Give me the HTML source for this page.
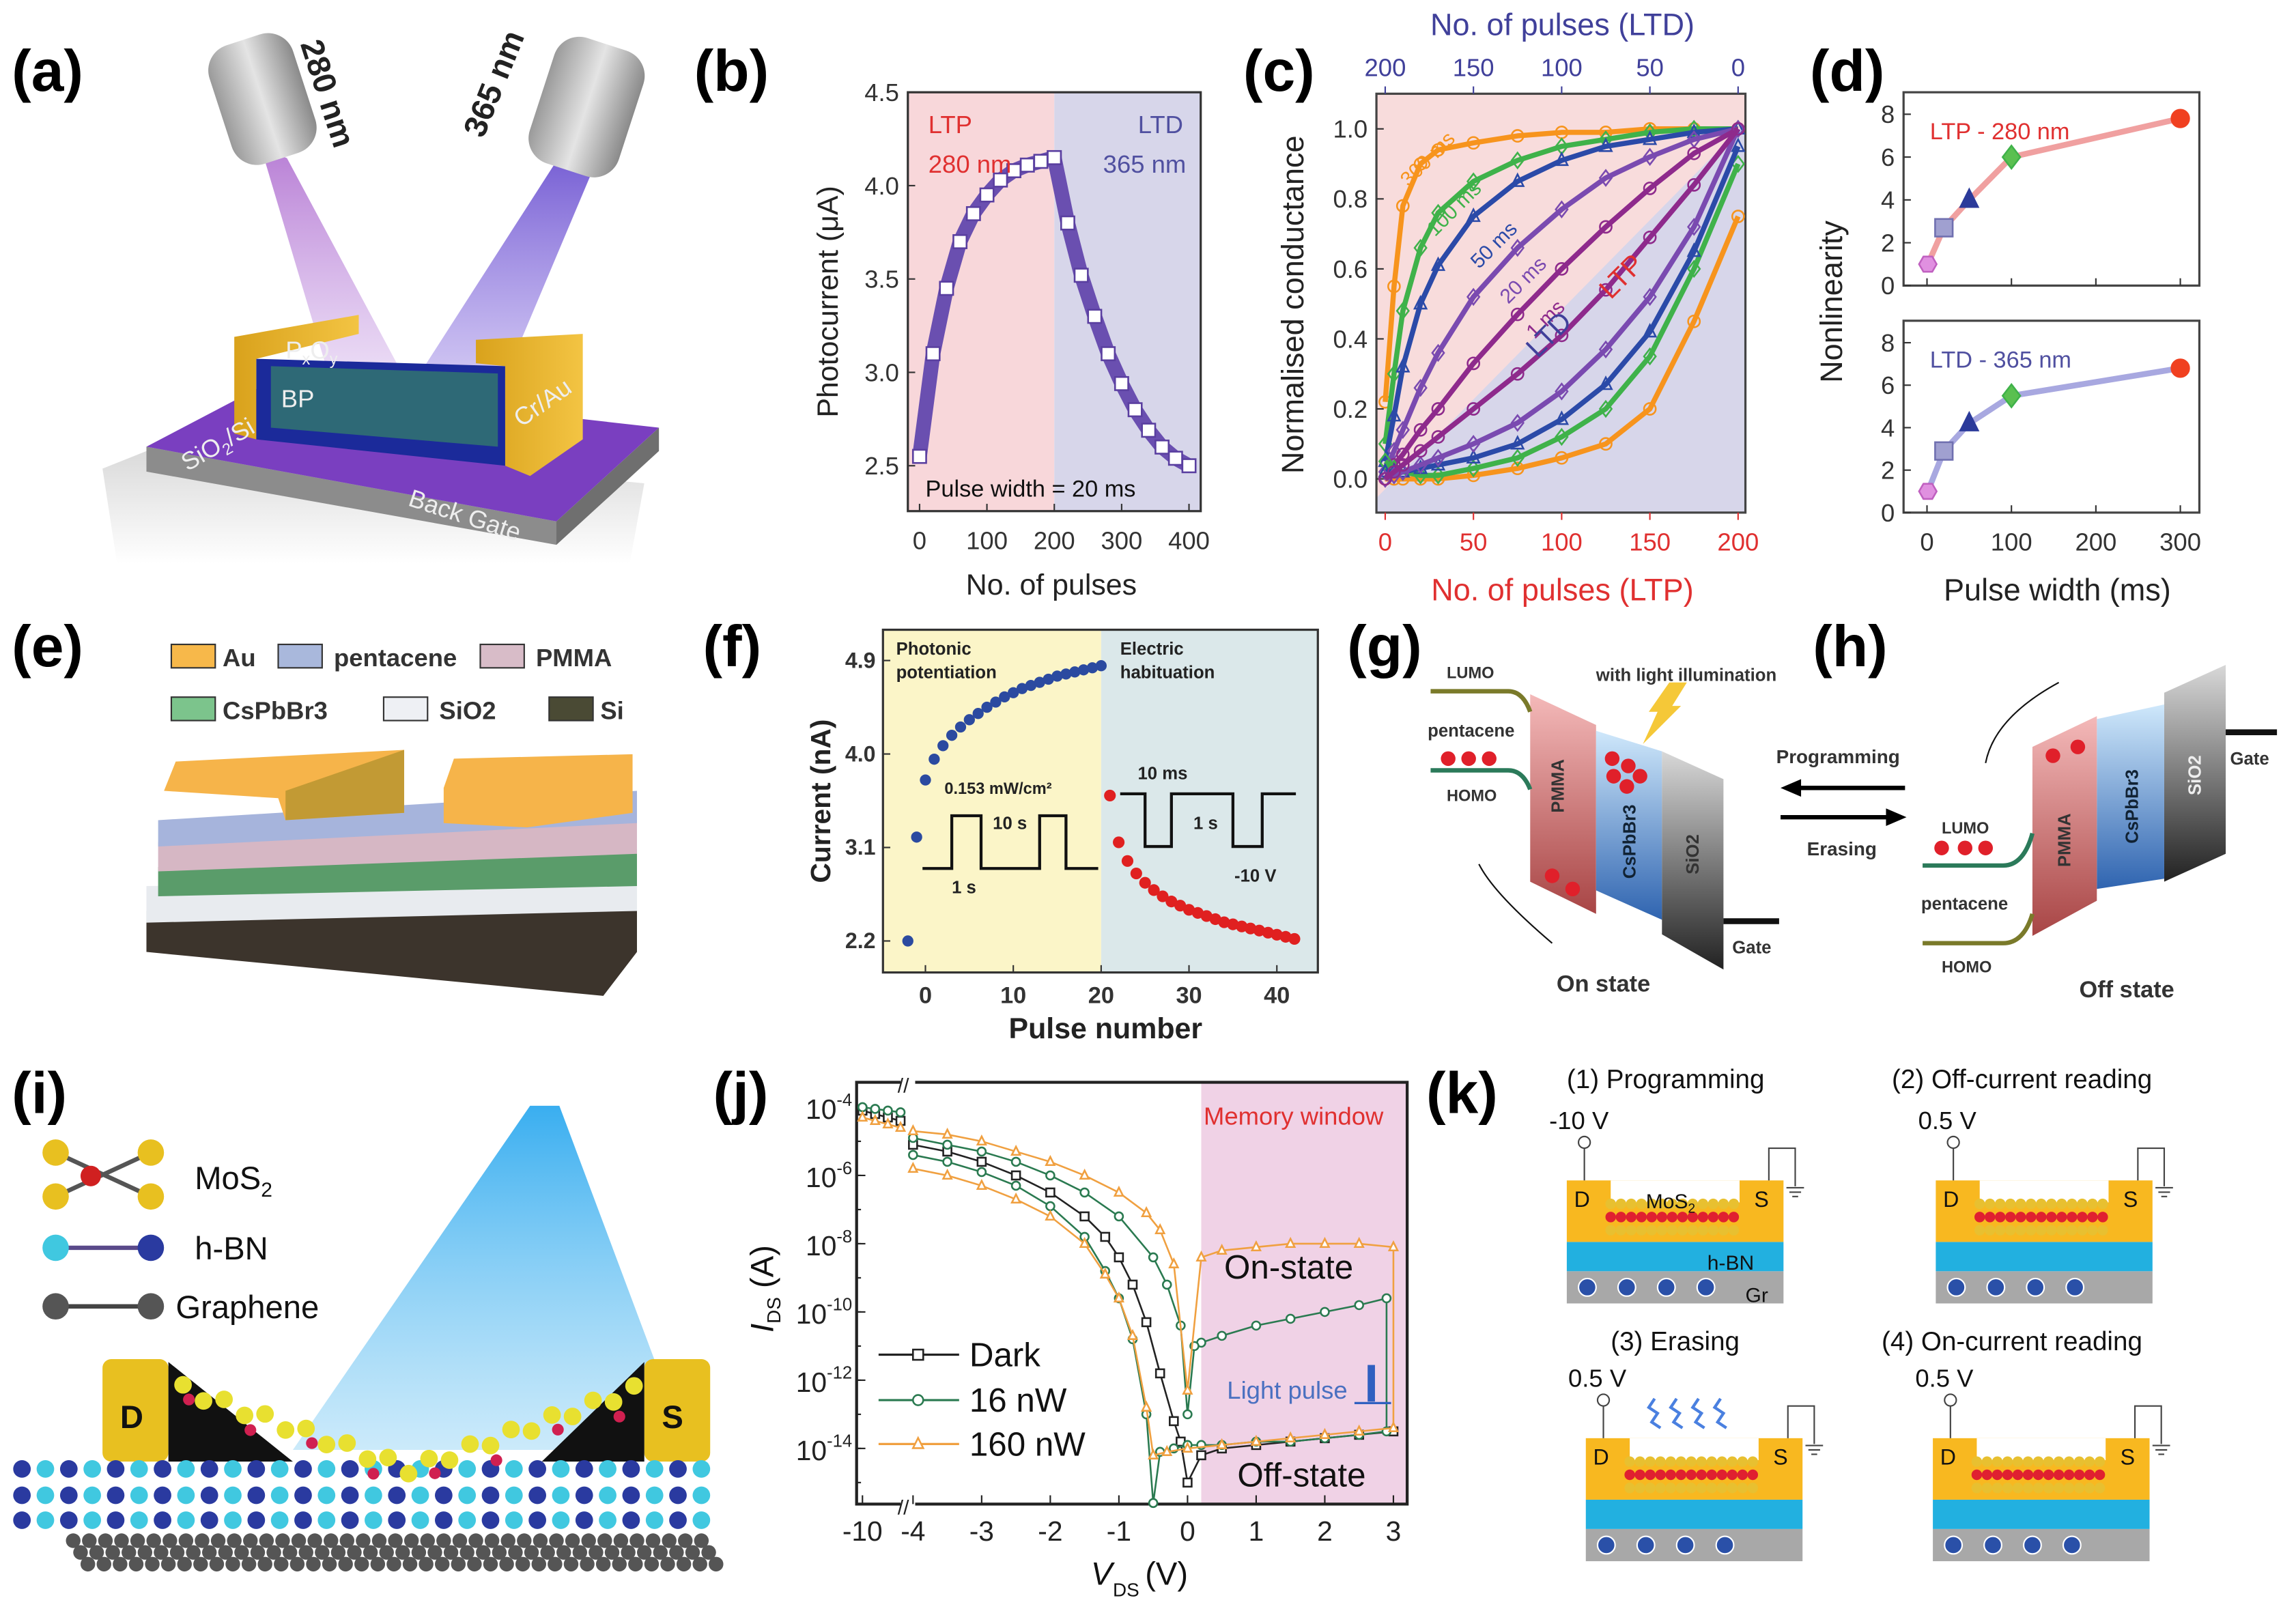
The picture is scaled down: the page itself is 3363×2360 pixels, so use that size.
<!DOCTYPE html>
<html><head><meta charset="utf-8"><title>Optoelectronic synaptic devices figure</title>
<style>
html,body{margin:0;padding:0;background:#fff;}
svg{display:block;}
text{font-family:"Liberation Sans",sans-serif;}
</style></head>
<body>
<svg id="fig" xmlns="http://www.w3.org/2000/svg" width="3363" height="2360" viewBox="0 0 1568 1100" preserveAspectRatio="none">
<defs>
  <linearGradient id="beamL" x1="0" y1="0" x2="0" y2="1"><stop offset="0" stop-color="#b070d0" stop-opacity="0.9"/><stop offset="1" stop-color="#c090e0" stop-opacity="0.3"/></linearGradient>
  <linearGradient id="beamR" x1="0" y1="0" x2="0" y2="1"><stop offset="0" stop-color="#6a50d0" stop-opacity="0.9"/><stop offset="1" stop-color="#8a70e0" stop-opacity="0.4"/></linearGradient>
  <linearGradient id="lamp" x1="0" y1="0" x2="1" y2="0"><stop offset="0" stop-color="#9a9a9a"/><stop offset="0.5" stop-color="#e4e4e4"/><stop offset="1" stop-color="#8a8a8a"/></linearGradient>
  <linearGradient id="gold" x1="0" y1="0" x2="1" y2="0"><stop offset="0" stop-color="#d9a21c"/><stop offset="1" stop-color="#f3c443"/></linearGradient>
  <linearGradient id="pmma" x1="0" y1="0" x2="0" y2="1"><stop offset="0" stop-color="#f4b9b9"/><stop offset="1" stop-color="#a84545"/></linearGradient>
  <linearGradient id="csp" x1="0" y1="0" x2="0" y2="1"><stop offset="0" stop-color="#cfe8fb"/><stop offset="1" stop-color="#2f64b0"/></linearGradient>
  <linearGradient id="sio" x1="0" y1="0" x2="0" y2="1"><stop offset="0" stop-color="#d8d8d8"/><stop offset="1" stop-color="#222"/></linearGradient>
  <linearGradient id="cone" x1="0" y1="0" x2="0" y2="1"><stop offset="0" stop-color="#39aef0"/><stop offset="1" stop-color="#a9dcf7" stop-opacity="0.6"/></linearGradient>
  <linearGradient id="shadow" x1="0" y1="0" x2="0" y2="1"><stop offset="0" stop-color="#bbb"/><stop offset="1" stop-color="#fff"/></linearGradient>
</defs>

<g font-weight="bold" font-size="40" fill="#000">
  <text x="8" y="62">(a)</text>
  <text x="474" y="62">(b)</text>
  <text x="849" y="62">(c)</text>
  <text x="1236" y="62">(d)</text>
  <text x="8" y="455">(e)</text>
  <text x="480" y="455">(f)</text>
  <text x="920" y="455">(g)</text>
  <text x="1238" y="455">(h)</text>
  <text x="8" y="760">(i)</text>
  <text x="487" y="760">(j)</text>
  <text x="974" y="760">(k)</text>
</g>

<g>
  <polygon points="70,320 120,300 440,330 430,385 80,385" fill="url(#shadow)" opacity="0.6"/>
  <polygon points="178,100 196,108 272,250 225,258" fill="url(#beamL)"/>
  <polygon points="380,110 404,118 345,258 290,250" fill="url(#beamR)"/>
  <g transform="rotate(-18 180 70)"><rect x="150" y="25" width="60" height="85" rx="18" fill="url(#lamp)"/></g>
  <g transform="rotate(18 400 75)"><rect x="368" y="28" width="64" height="90" rx="18" fill="url(#lamp)"/></g>
  <text x="0" y="0" transform="translate(205,30) rotate(72)" font-size="22" font-weight="bold" fill="#222">280 nm</text>
  <text x="0" y="0" transform="translate(330,95) rotate(-68)" font-size="22" font-weight="bold" fill="#222">365 nm</text>
  <polygon points="100,305 100,322 380,372 380,356" fill="#8c8c8c"/>
  <polygon points="380,356 380,372 450,308 450,292" fill="#6f6f6f"/>
  <polygon points="100,305 182,262 450,292 380,356" fill="#7a3fc0"/>
  <polygon points="175,245 345,250 345,318 175,300" fill="#1b2a9a"/>
  <polygon points="185,250 340,255 340,305 185,292" fill="#3e9c5a" opacity="0.55"/>
  <polygon points="160,230 245,215 245,228 175,245 175,300 160,296" fill="url(#gold)"/>
  <polygon points="325,232 398,228 398,300 362,325 345,318 345,250 325,248" fill="url(#gold)"/>
  <text x="195" y="245" font-size="17" fill="#eee">P<tspan font-size="11" dy="4">x</tspan><tspan dy="-4">O</tspan><tspan font-size="11" dy="4">y</tspan></text>
  <text x="192" y="278" font-size="17" fill="#eee">BP</text>
  <text x="0" y="0" transform="translate(356,292) rotate(-35)" font-size="17" fill="#eee">Cr/Au</text>
  <text x="0" y="0" transform="translate(128,322) rotate(-30)" font-size="17" fill="#eee">SiO<tspan font-size="11" dy="4">2</tspan><tspan dy="-4">/Si</tspan></text>
  <text x="0" y="0" transform="translate(278,345) rotate(18)" font-size="17" fill="#eee">Back Gate</text>
</g>

<g id="chartB"></g>
<g id="chartC"></g>
<g id="chartD"></g>

<g font-size="17" font-weight="bold" fill="#333">
  <rect x="117" y="440" width="30" height="16" fill="#f7b84a" stroke="#333"/><text x="152" y="455">Au</text>
  <rect x="190" y="440" width="30" height="16" fill="#a9b8dc" stroke="#333"/><text x="228" y="455">pentacene</text>
  <rect x="328" y="440" width="30" height="16" fill="#d8bcc8" stroke="#333"/><text x="366" y="455">PMMA</text>
  <rect x="117" y="476" width="30" height="16" fill="#7cc48c" stroke="#333"/><text x="152" y="491">CsPbBr3</text>
  <rect x="262" y="476" width="30" height="16" fill="#eef0f4" stroke="#333"/><text x="300" y="491">SiO2</text>
  <rect x="375" y="476" width="30" height="16" fill="#4a4a34" stroke="#333"/><text x="410" y="491">Si</text>
  <polygon points="100,622 435,622 435,650 412,680 100,650" fill="#3c342c"/>
  <polygon points="100,605 435,600 435,622 100,630" fill="#e8ebef"/>
  <polygon points="108,592 435,580 435,605 108,612" fill="#5a9c6a"/>
  <polygon points="108,575 435,560 435,583 108,595" fill="#d6b7c4"/>
  <polygon points="108,560 435,540 435,562 108,578" fill="#a6b4dc"/>
  <polygon points="112,540 120,520 276,512 276,555 195,560 190,545" fill="#f6b44a"/>
  <polygon points="195,540 276,512 276,555 195,560" fill="#c29a34"/>
  <polygon points="303,538 310,518 432,515 432,555 360,565 303,562" fill="#f6b44a"/>
</g>

<g id="chartF"></g>

<g font-weight="bold" fill="#333">
  <polygon points="1045,474 1090,495 1090,624 1045,602" fill="url(#pmma)"/>
  <polygon points="1090,499 1135,513 1135,628 1090,608" fill="url(#csp)"/>
  <polygon points="1135,513 1177,532 1177,662 1135,638" fill="url(#sio)"/>
  <rect x="1177" y="627" width="38" height="4" fill="#111"/>
  <path d="M977,472 H1030 Q1040,472 1045,486" stroke="#7a7a2a" stroke-width="3" fill="none"/>
  <path d="M977,526 H1030 Q1040,526 1045,539" stroke="#2b7a5a" stroke-width="3" fill="none"/>
  <text x="988" y="463" font-size="11">LUMO</text>
  <text x="975" y="503" font-size="12">pentacene</text>
  <text x="988" y="547" font-size="11">HOMO</text>
  <text x="1090" y="465" font-size="12">with light illumination</text>
  <polygon points="1140,466 1152,466 1142,482 1148,482 1122,508 1132,486 1126,486" fill="#f5c838"/>
  <g fill="#e0202a"><circle cx="989" cy="518" r="5"/><circle cx="1003" cy="518" r="5"/><circle cx="1017" cy="518" r="5"/></g>
  <g fill="#e0202a"><circle cx="1101" cy="518" r="5"/><circle cx="1112" cy="523" r="5"/><circle cx="1102" cy="530" r="5"/><circle cx="1120" cy="530" r="5"/><circle cx="1111" cy="537" r="5"/></g>
  <g fill="#e0202a"><circle cx="1060" cy="598" r="5"/><circle cx="1074" cy="607" r="5"/></g>
  <path d="M1060,644 Q1020,610 1010,590" stroke="#111" fill="none"/>
  <text x="0" y="0" transform="translate(1068,555) rotate(-90)" font-size="12">PMMA</text>
  <text x="0" y="0" transform="translate(1117,600) rotate(-90)" font-size="12" fill="#123">CsPbBr3</text>
  <text x="0" y="0" transform="translate(1160,597) rotate(-90)" font-size="12">SiO2</text>
  <text x="1183" y="651" font-size="12">Gate</text>
  <text x="1063" y="677" font-size="16">On state</text>
  <text x="1213" y="521" font-size="13">Programming</text>
  <path d="M1301,538 H1225" stroke="#000" stroke-width="3"/><polygon points="1216,538 1230,532 1230,544" fill="#000"/>
  <path d="M1216,558 H1292" stroke="#000" stroke-width="3"/><polygon points="1302,558 1288,552 1288,564" fill="#000"/>
  <text x="1234" y="584" font-size="13">Erasing</text>
</g>

<g font-weight="bold" fill="#333">
  <polygon points="1478,473 1520,454 1520,583 1478,602" fill="url(#sio)"/>
  <polygon points="1432,491 1478,481 1478,600 1432,607" fill="url(#csp)"/>
  <polygon points="1388,510 1432,489 1432,615 1388,639" fill="url(#pmma)"/>
  <rect x="1520" y="498" width="35" height="4" fill="#111"/>
  <text x="1523" y="522" font-size="12">Gate</text>
  <path d="M1313,591 H1368 Q1382,591 1388,569" stroke="#2b7a5a" stroke-width="3" fill="none"/>
  <path d="M1313,644 H1368 Q1382,644 1388,624" stroke="#7a7a2a" stroke-width="3" fill="none"/>
  <text x="1326" y="569" font-size="11">LUMO</text>
  <text x="1312" y="621" font-size="12">pentacene</text>
  <text x="1326" y="664" font-size="11">HOMO</text>
  <g fill="#e0202a"><circle cx="1326" cy="579" r="5"/><circle cx="1342" cy="579" r="5"/><circle cx="1356" cy="579" r="5"/></g>
  <g fill="#e0202a"><circle cx="1402" cy="516" r="5"/><circle cx="1419" cy="510" r="5"/></g>
  <path d="M1406,466 Q1362,490 1356,521" stroke="#111" fill="none"/>
  <text x="0" y="0" transform="translate(1414,592) rotate(-90)" font-size="12">PMMA</text>
  <text x="0" y="0" transform="translate(1460,576) rotate(-90)" font-size="12" fill="#123">CsPbBr3</text>
  <text x="0" y="0" transform="translate(1503,543) rotate(-90)" font-size="12" fill="#eee">SiO2</text>
  <text x="1420" y="681" font-size="16">Off state</text>
</g>

<g id="panelI">
  <polygon points="362,755 382,755 470,990 200,990" fill="url(#cone)"/>
  <g><line x1="38" y1="787" x2="103" y2="817" stroke="#555" stroke-width="3"/><line x1="103" y1="787" x2="38" y2="817" stroke="#555" stroke-width="3"/><circle cx="38" cy="787" r="9" fill="#e8c020"/><circle cx="103" cy="787" r="9" fill="#e8c020"/><circle cx="38" cy="817" r="9" fill="#e8c020"/><circle cx="103" cy="817" r="9" fill="#e8c020"/><circle cx="62" cy="803" r="7" fill="#d02020"/>
  <text x="133" y="812" font-size="22" fill="#111">MoS<tspan font-size="14" dy="5">2</tspan></text></g>
  <g><line x1="38" y1="852" x2="103" y2="852" stroke="#5a4a8a" stroke-width="3"/><circle cx="38" cy="852" r="9" fill="#40c8e0"/><circle cx="103" cy="852" r="9" fill="#2a3aa0"/><text x="133" y="860" font-size="22" fill="#111">h-BN</text></g>
  <g><line x1="38" y1="892" x2="103" y2="892" stroke="#444" stroke-width="3"/><circle cx="38" cy="892" r="9" fill="#555"/><circle cx="103" cy="892" r="9" fill="#555"/><text x="120" y="900" font-size="22" fill="#111">Graphene</text></g>
  <rect x="70" y="928" width="45" height="70" rx="6" fill="#e8c020"/>
  <polygon points="115,930 200,998 115,998" fill="#111"/>
  <rect x="440" y="928" width="45" height="70" rx="6" fill="#e8c020"/>
  <polygon points="440,930 370,998 440,998" fill="#111"/>
  <text x="82" y="975" font-size="22" font-weight="bold" fill="#111">D</text>
  <text x="452" y="975" font-size="22" font-weight="bold" fill="#111">S</text>
</g>

<g id="chartJ"></g>

<g id="panelK" font-size="18" fill="#111">
  <text x="1070" y="743">(1) Programming</text>
  <text x="1292" y="743">(2) Off-current reading</text>
  <text x="1100" y="922">(3) Erasing</text>
  <text x="1285" y="922">(4) On-current reading</text>
</g>
</svg>

<script>
const NS="http://www.w3.org/2000/svg";
function el(tag,attrs,parent){const e=document.createElementNS(NS,tag);for(const k in attrs)e.setAttribute(k,attrs[k]);parent.appendChild(e);return e;}
function txt(s,attrs,parent){const e=el('text',attrs,parent);e.textContent=s;return e;}

/* ---------- (b) data ---------- */
const bLtpPulses=[0,20,40,60,80,100,120,140,160,180,200];
const bLtpValues=[2.55,3.1,3.45,3.7,3.85,3.95,4.03,4.08,4.11,4.13,4.15];
const bLtdPulses=[200,220,240,260,280,300,320,340,360,380,400];
const bLtdValues=[4.15,3.8,3.52,3.3,3.1,2.94,2.8,2.69,2.6,2.54,2.5];
const bYTicks=[2.5,3.0,3.5,4.0,4.5];
const bXTicks=[0,100,200,300,400];

/* ---------- (c) data ---------- */
const cPulses=[0,5,10,20,30,50,75,100,125,150,175,200];
const cLtp300=[0.22,0.55,0.78,0.9,0.94,0.96,0.98,0.99,0.99,1.0,1.0,1.0];
const cLtp100=[0.1,0.3,0.48,0.66,0.76,0.85,0.91,0.95,0.97,0.99,1.0,1.0];
const cLtp50=[0.05,0.18,0.32,0.5,0.61,0.75,0.85,0.91,0.95,0.97,0.99,1.0];
const cLtp20=[0.02,0.08,0.14,0.26,0.36,0.52,0.66,0.77,0.86,0.92,0.97,1.0];
const cLtp1=[0.0,0.04,0.07,0.14,0.2,0.33,0.47,0.6,0.72,0.83,0.93,1.0];
const cLtd300=[0.0,0.0,0.0,0.0,0.0,0.01,0.03,0.06,0.1,0.2,0.45,0.75];
const cLtd100=[0.05,0.03,0.02,0.01,0.01,0.03,0.06,0.12,0.2,0.35,0.6,0.9];
const cLtd50=[0.02,0.02,0.02,0.03,0.04,0.06,0.1,0.17,0.27,0.42,0.65,0.95];
const cLtd20=[0.0,0.01,0.02,0.04,0.06,0.1,0.16,0.25,0.37,0.52,0.72,1.0];
const cLtd1=[0.0,0.02,0.04,0.08,0.12,0.2,0.3,0.41,0.54,0.69,0.84,1.0];
const cYTicks=[0.0,0.2,0.4,0.6,0.8,1.0];
const cXTicks=[0,50,100,150,200];

/* ---------- (d) data ---------- */
const dWidths=[1,20,50,100,300];
const dLtpNonlin=[1.0,2.7,4.0,6.0,7.8];
const dLtdNonlin=[1.0,2.9,4.2,5.5,6.8];
const dYTicks=[0,2,4,6,8];
const dXTicks=[0,100,200,300];

/* ---------- (f) data ---------- */
const fPotPulses=[-2,-1,0,1,2,3,4,5,6,7,8,9,10,11,12,13,14,15,16,17,18,19,20];
const fPotValues=[2.2,3.2,3.75,3.95,4.08,4.18,4.26,4.33,4.39,4.45,4.5,4.55,4.59,4.63,4.66,4.69,4.72,4.75,4.77,4.79,4.81,4.83,4.85];
const fHabPulses=[21,22,23,24,25,26,27,28,29,30,31,32,33,34,35,36,37,38,39,40,41,42];
const fHabValues=[3.6,3.15,2.97,2.85,2.76,2.69,2.63,2.58,2.54,2.5,2.47,2.44,2.41,2.38,2.36,2.34,2.32,2.3,2.28,2.26,2.24,2.22];
const fYTicks=[2.2,3.1,4.0,4.9];
const fXTicks=[0,10,20,30,40];

/* ---------- (j) data (V, log10 I) ---------- */
const jDarkV=[-4,-3.5,-3,-2.5,-2,-1.5,-1.2,-1,-0.8,-0.6,-0.4,-0.2,-0.1,0,0.2,0.5,1,1.5,2,2.5,3];
const jDarkLog=[-5.1,-5.3,-5.6,-6.0,-6.5,-7.2,-7.8,-8.4,-9.2,-10.3,-11.8,-13.2,-13.8,-15,-14.2,-14,-13.9,-13.8,-13.7,-13.6,-13.5];
const jG16V=[-4,-3.5,-3,-2.5,-2,-1.5,-1.2,-1,-0.8,-0.6,-0.5,-0.4,-0.2,0,0.2,0.5,1,1.5,2,2.5,2.9,2.9,2.5,2,1.5,1,0.5,0.2,0.1,0,-0.1,-0.3,-0.5,-1,-1.5,-2,-2.5,-3,-3.5,-4];
const jG16Log=[-5.4,-5.6,-5.9,-6.3,-6.9,-7.8,-8.8,-9.6,-10.8,-13,-15.6,-14.1,-14,-13.9,-13.9,-13.9,-13.8,-13.8,-13.7,-13.6,-13.5,-9.6,-9.8,-10,-10.2,-10.4,-10.7,-10.9,-11,-13,-10.4,-9.2,-8.4,-7.2,-6.5,-6,-5.6,-5.3,-5.1,-4.9];
const jG160V=[-4,-3.5,-3,-2.5,-2,-1.5,-1.2,-1,-0.8,-0.6,-0.5,-0.3,0,0.5,1,1.5,2,2.5,3,3,2.5,2,1.5,1,0.5,0.2,0,-0.2,-0.4,-0.6,-1,-1.5,-2,-2.5,-3,-3.5,-4];
const jG160Log=[-5.8,-6.0,-6.3,-6.7,-7.2,-8.0,-8.9,-9.6,-10.7,-12.8,-14.2,-14.1,-14,-13.9,-13.8,-13.7,-13.6,-13.5,-13.4,-8.1,-8.0,-8.0,-8.0,-8.1,-8.2,-8.4,-12.3,-8.6,-7.6,-7.1,-6.5,-6.0,-5.6,-5.3,-5.0,-4.8,-4.7];
const jBreakV=[-10,-9.5,-9,-8.5];
const jBreakDark=[-4.1,-4.2,-4.3,-4.4];
const jBreak16=[-4.0,-4.05,-4.1,-4.15];
const jBreak160=[-4.3,-4.4,-4.5,-4.6];
const jYTicks=[-4,-6,-8,-10,-12,-14];
const jXTicks=[-4,-3,-2,-1,0,1,2,3];

function lin(d0,d1,r0,r1){return v=>r0+(v-d0)*(r1-r0)/(d1-d0);}
function marker(shape,x,y,s,color,fill,parent){
  let e;
  if(shape==='sq') e=el('rect',{x:x-s,y:y-s,width:2*s,height:2*s,fill:fill,stroke:color,'stroke-width':1.2},parent);
  else if(shape==='ci') e=el('circle',{cx:x,cy:y,r:s,fill:fill,stroke:color,'stroke-width':1.2},parent);
  else if(shape==='di') e=el('polygon',{points:`${x},${y-s*1.3} ${x+s},${y} ${x},${y+s*1.3} ${x-s},${y}`,fill:fill,stroke:color,'stroke-width':1.2},parent);
  else if(shape==='tr') e=el('polygon',{points:`${x},${y-s*1.2} ${x+s},${y+s*0.8} ${x-s},${y+s*0.8}`,fill:fill,stroke:color,'stroke-width':1.2},parent);
  else if(shape==='hex') e=el('polygon',{points:[0,1,2,3,4,5].map(i=>`${x+s*Math.cos(i*Math.PI/3)},${y+s*Math.sin(i*Math.PI/3)}`).join(' '),fill:fill,stroke:color,'stroke-width':1.2},parent);
  return e;
}

/* ======== (b) ======== */
(function(){
  const g=document.getElementById('chartB');
  const X=lin(0,400,628,812), Y=lin(2.5,4.5,318,63);
  const L=620,R=820,T=63,B=349;
  let r=el('rect',{x:L,y:T,width:X(200)-L,height:B-T,fill:'#f8d7da'},g);
  
  
  r=el('rect',{x:X(200),y:T,width:R-X(200),height:B-T,fill:'#d7d6ea'},g);
  
  
  const ax=el('rect',{x:L,y:T,width:R-L,height:B-T,fill:'none',stroke:'#333','stroke-width':1.5},g);
  
  
  bYTicks.forEach(v=>{el('line',{x1:L,x2:L+5,y1:Y(v),y2:Y(v),stroke:'#333'},g);
    const t=txt(v.toFixed(1),{x:L-6,y:Y(v)+6,'font-size':17,'text-anchor':'end',fill:'#333'},g);
    
    });
  bXTicks.forEach(v=>{el('line',{x1:X(v),x2:X(v),y1:B,y2:B-5,stroke:'#333'},g);
    const t=txt(String(v),{x:X(v),y:375,'font-size':17,'text-anchor':'middle',fill:'#333'},g);
    
    });
  const pl=el('polyline',{points:bLtpPulses.map((p,i)=>X(p)+','+Y(bLtpValues[i])).join(' ')+' '+bLtdPulses.map((p,i)=>X(p)+','+Y(bLtdValues[i])).join(' '),fill:'none',stroke:'#6a4fb0','stroke-width':10,'stroke-linejoin':'round'},g);
  
  
  bLtpPulses.forEach((p,i)=>{const m=marker('sq',X(p),Y(bLtpValues[i]),4.5,'#5a3fa0','#fff',g);
    
    });
  bLtdPulses.forEach((p,i)=>{const m=marker('sq',X(p),Y(bLtdValues[i]),4.5,'#5a3fa0','#fff',g);
    
    });
  let t=txt('LTP',{x:634,y:91,'font-size':17,fill:'#e03030'},g);
  t=txt('280 nm',{x:634,y:118,'font-size':17,fill:'#e03030'},g);
  t=txt('LTD',{x:808,y:91,'font-size':17,fill:'#5050a0','text-anchor':'end'},g);
  t=txt('365 nm',{x:810,y:118,'font-size':17,fill:'#5050a0','text-anchor':'end'},g);
  t=txt('Pulse width = 20 ms',{x:632,y:339,'font-size':16,fill:'#111'},g);
  t=txt('Photocurrent (\u03bcA)',{x:0,y:0,'font-size':20,fill:'#222','text-anchor':'middle',transform:'translate(572,206) rotate(-90)'},g);
  t=txt('No. of pulses',{x:718,y:406,'font-size':20,fill:'#222','text-anchor':'middle'},g);
})();

/* ======== (c) ======== */
(function(){
  const g=document.getElementById('chartC');
  const X=lin(0,200,946,1187), Y=lin(0,1,327,88);
  const L=940,R=1192,T=64,B=350;
  let p=el('rect',{x:L,y:T,width:R-L,height:B-T,fill:'#d7d6ea'},g);
  
  
  p=el('polygon',{points:`${L},${T} ${R},${T} ${R},${T+20} ${L},${B-10}`,fill:'#f8dcdc'},g);
  
  
  p=el('rect',{x:L,y:T,width:R-L,height:B-T,fill:'none',stroke:'#444','stroke-width':1.5},g);
  
  
  cYTicks.forEach(v=>{el('line',{x1:L,x2:L+5,y1:Y(v),y2:Y(v),stroke:'#333'},g);
    const t=txt(v.toFixed(1),{x:L-6,y:Y(v)+6,'font-size':17,'text-anchor':'end',fill:'#333'},g);
    
    });
  cXTicks.forEach(v=>{el('line',{x1:X(v),x2:X(v),y1:B,y2:B+5,stroke:'#e03030'},g);
    let t=txt(String(v),{x:X(v),y:376,'font-size':17,'text-anchor':'middle',fill:'#e03030'},g);
    
    
    el('line',{x1:X(v),x2:X(v),y1:T,y2:T-5,stroke:'#40409a'},g);
    t=txt(String(200-v),{x:X(v),y:52,'font-size':17,'text-anchor':'middle',fill:'#40409a'},g);
    
    });
  const series=[
    ['ltp-300ms',cLtp300,'#f7941d','ci'],['ltp-100ms',cLtp100,'#3fb24a','di'],['ltp-50ms',cLtp50,'#2b4aa8','tr'],['ltp-20ms',cLtp20,'#7a4ab0','di'],['ltp-1ms',cLtp1,'#8e2a8c','ci'],
    ['ltd-300ms',cLtd300,'#f7941d','ci'],['ltd-100ms',cLtd100,'#3fb24a','di'],['ltd-50ms',cLtd50,'#2b4aa8','tr'],['ltd-20ms',cLtd20,'#7a4ab0','di'],['ltd-1ms',cLtd1,'#8e2a8c','ci']];
  series.forEach(([name,vals,col,shp])=>{
    const sg=el('g',{},g);
    
    
    el('polyline',{points:cPulses.map((p,i)=>X(p)+','+Y(vals[i])).join(' '),fill:'none',stroke:col,'stroke-width':3.5,'stroke-linejoin':'round'},sg);
    cPulses.forEach((p,i)=>{const m=marker(shp,X(p),Y(vals[i]),4,col,'none',sg);
      
      });
  });
  const lab=[['300 ms',962,128,'#f7941d'],['100 ms',980,162,'#3fb24a'],['50 ms',1010,184,'#2b4aa8'],['20 ms',1030,208,'#7a4ab0'],['1 ms',1048,232,'#8e2a8c']];
  lab.forEach(([s,x,y,c])=>{const t=txt(s,{x:0,y:0,'font-size':14,fill:c,transform:`translate(${x},${y}) rotate(-45)`},g);
    
    });
  let t=txt('LTP',{x:0,y:0,'font-size':19,fill:'#e03030',transform:'translate(1100,205) rotate(-45)'},g);
  t=txt('LTD',{x:0,y:0,'font-size':19,fill:'#40409a',transform:'translate(1050,245) rotate(-45)'},g);
  t=txt('Normalised conductance',{x:0,y:0,'font-size':21,fill:'#222','text-anchor':'middle',transform:'translate(890,208) rotate(-90)'},g);
  t=txt('No. of pulses (LTP)',{x:1067,y:410,'font-size':21,fill:'#e03030','text-anchor':'middle'},g);
  t=txt('No. of pulses (LTD)',{x:1067,y:24,'font-size':21,fill:'#40409a','text-anchor':'middle'},g);
})();

/* ======== (d) ======== */
(function(){
  const g=document.getElementById('chartD');
  const X=lin(0,300,1316,1489);
  const shapes=['hex','sq','tr','di','ci'];
  const cols=['#c060c0','#7070b0','#2b3a9a','#3fb24a','#f04020'];
  const fills=['#e090e0','#a0a0d0','#2b3a9a','#5ac050','#f04020'];
  function sub(top,bot,vals,lineCol,label,labelCol,nm){
    const Y=lin(0,8,bot,top+15);
    const sg=el('g',{},g);
    
    
    el('rect',{x:1300,y:top,width:202,height:bot-top,fill:'#fff',stroke:'#444','stroke-width':1.5},sg);
    dYTicks.forEach(v=>{el('line',{x1:1300,x2:1305,y1:Y(v),y2:Y(v),stroke:'#333'},sg);
      const t=txt(String(v),{x:1294,y:Y(v)+6,'font-size':17,'text-anchor':'end',fill:'#333'},sg);
      
      });
    dXTicks.forEach(v=>el('line',{x1:X(v),x2:X(v),y1:bot,y2:bot-5,stroke:'#333'},sg));
    el('polyline',{points:dWidths.map((w,i)=>X(w)+','+Y(vals[i])).join(' '),fill:'none',stroke:lineCol,'stroke-width':4},sg);
    dWidths.forEach((w,i)=>{const m=marker(shapes[i],X(w),Y(vals[i]),6,cols[i],fills[i],sg);
      
      });
    const t=txt(label,{x:1318,y:top+32,'font-size':16,fill:labelCol},sg);
    
    
  }
  sub(63,195,dLtpNonlin,'#f0a0a0','LTP - 280 nm','#e03030','ltp-subplot');
  sub(219,350,dLtdNonlin,'#a8a8e0','LTD - 365 nm','#5050a0','ltd-subplot');
  dXTicks.forEach(v=>{const t=txt(String(v),{x:X(v),y:376,'font-size':17,'text-anchor':'middle',fill:'#333'},g);
    
    });
  let t=txt('Nonlinearity',{x:0,y:0,'font-size':21,fill:'#222','text-anchor':'middle',transform:'translate(1258,206) rotate(-90)'},g);
  t=txt('Pulse width (ms)',{x:1405,y:410,'font-size':21,fill:'#222','text-anchor':'middle'},g);
})();

/* ======== (f) ======== */
(function(){
  const g=document.getElementById('chartF');
  const X=lin(0,40,632,872), Y=lin(2.2,4.9,642.5,451);
  const L=603,R=900,T=430,B=664;
  let r=el('rect',{x:L,y:T,width:X(20)-L,height:B-T,fill:'#fbf5c8'},g);
  
  
  r=el('rect',{x:X(20),y:T,width:R-X(20),height:B-T,fill:'#dbe8ea'},g);
  
  
  el('rect',{x:L,y:T,width:R-L,height:B-T,fill:'none',stroke:'#333','stroke-width':1.5},g);
  fYTicks.forEach(v=>{el('line',{x1:L,x2:L+5,y1:Y(v),y2:Y(v),stroke:'#333'},g);
    const t=txt(v.toFixed(1),{x:L-5,y:Y(v)+5,'font-size':15,'text-anchor':'end','font-weight':'bold',fill:'#333'},g);
    
    });
  fXTicks.forEach(v=>{el('line',{x1:X(v),x2:X(v),y1:B,y2:B-5,stroke:'#333'},g);
    const t=txt(String(v),{x:X(v),y:685,'font-size':16,'text-anchor':'middle','font-weight':'bold',fill:'#333'},g);
    
    });
  fPotPulses.forEach((p,i)=>{const m=el('circle',{cx:X(p),cy:Y(fPotValues[i]),r:3.8,fill:'#2b4aa0'},g);
    
    });
  fHabPulses.forEach((p,i)=>{const m=el('circle',{cx:X(p),cy:Y(fHabValues[i]),r:4,fill:'#e02020'},g);
    
    });
  let pw=el('path',{d:'M630,593 H650 V557 H670 V593 H710 V557 H728 V593 H750',fill:'none',stroke:'#111','stroke-width':2},g);
  
  
  pw=el('path',{d:'M765,542 H782 V578 H800 V542 H842 V578 H862 V542 H885',fill:'none',stroke:'#111','stroke-width':2},g);
  
  
  const T2=[['Photonic',612,447,12],['potentiation',612,463,12],['Electric',765,447,12],['habituation',765,463,12],['0.153 mW/cm\u00b2',645,542,11],['10 s',678,566,12],['1 s',650,610,12],['10 ms',777,532,12],['1 s',815,566,12],['-10 V',843,602,12]];
  T2.forEach(([s,x,y,f])=>{const t=txt(s,{x:x,y:y,'font-size':f,'font-weight':'bold',fill:'#222'},g);
    
    });
  let t=txt('Current (nA)',{x:0,y:0,'font-size':19,'font-weight':'bold',fill:'#222','text-anchor':'middle',transform:'translate(567,547) rotate(-90)'},g);
  t=txt('Pulse number',{x:755,y:709,'font-size':20,'font-weight':'bold',fill:'#222','text-anchor':'middle'},g);
})();

/* ======== (i) spheres ======== */
(function(){
  const g=document.getElementById('panelI');
  const rows=[1003,1021,1038];
  rows.forEach(y=>{const rg=el('g',{},g);
    
    
    for(let x=15;x<490;x+=16){el('circle',{cx:x,cy:y,r:6,fill:(Math.round(x/16)%2)?'#2a3aa0':'#40c8e0'},rg);}});
  const gg=el('g',{},g);
  
  
  for(let j=0;j<3;j++)for(let x=50+j*5;x<490;x+=11){el('circle',{cx:x,cy:1052+j*8,r:5,fill:'#555'},gg);}
  const mg=el('g',{},g);
  
  
  for(let x=125;x<435;x+=14){const h=Math.abs(x-280)/155;const y=995-h*55+((x/14)%2)*6;
    el('circle',{cx:x,cy:y,r:6,fill:'#e8e030'},mg);
    if(Math.round(x/14)%3===0)el('circle',{cx:x+4,cy:y+10,r:4,fill:'#d02050'},mg);}
})();

/* ======== (j) ======== */
(function(){
  const g=document.getElementById('chartJ');
  const Xm=lin(0,3,811,951.6);
  const X=v=> v<=-5 ? lin(-10,-8.5,589,615)(v) : Xm(v);
  const Y=lin(-4,-14,756,989);
  const L=585,R=961,T=739,B=1027;
  let r=el('rect',{x:Xm(0.2),y:T,width:R-Xm(0.2),height:B-T,fill:'#f0d2e6'},g);
  
  
  el('rect',{x:L,y:T,width:R-L,height:B-T,fill:'none',stroke:'#222','stroke-width':2},g);
  el('rect',{x:615,y:734,width:10,height:10,fill:'#fff'},g);
  el('rect',{x:615,y:1022,width:10,height:10,fill:'#fff'},g);
  let t=txt('//',{x:613,y:746,'font-size':14,fill:'#222'},g);
  t=txt('//',{x:613,y:1034,'font-size':14,fill:'#222'},g);
  jYTicks.forEach(v=>{el('line',{x1:L,x2:L+6,y1:Y(v),y2:Y(v),stroke:'#222'},g);
    const tt=txt('10',{x:L-3,y:Y(v)+8,'font-size':19,'text-anchor':'end',fill:'#222'},g);
    
    
    const ts=el('tspan',{'font-size':12,dy:-9},tt); ts.textContent=String(v);});
  for(let v=-15;v<=-4;v++)el('line',{x1:L,x2:L+3,y1:Y(v),y2:Y(v),stroke:'#222'},g);
  jXTicks.forEach(v=>{el('line',{x1:X(v),x2:X(v),y1:B,y2:B-6,stroke:'#222'},g);
    const tt=txt(String(v),{x:X(v),y:1052,'font-size':19,'text-anchor':'middle',fill:'#222'},g);
    
    });
  el('line',{x1:X(-10),x2:X(-10),y1:B,y2:B-6,stroke:'#222'},g);
  t=txt('-10',{x:X(-10),y:1052,'font-size':19,'text-anchor':'middle',fill:'#222'},g);
  const S=[['dark',jDarkV,jDarkLog,jBreakDark,'#222','sq'],['16nw',jG16V,jG16Log,jBreak16,'#2a7a50','ci'],['160nw',jG160V,jG160Log,jBreak160,'#f0a040','tr']];
  S.forEach(([nm,vs,ls,bk,col,shp])=>{
    const sg=el('g',{},g);
    
    
    el('polyline',{points:vs.map((v,i)=>X(v)+','+Y(ls[i])).join(' '),fill:'none',stroke:col,'stroke-width':1.2},sg);
    el('polyline',{points:jBreakV.map((v,i)=>X(v)+','+Y(bk[i])).join(' '),fill:'none',stroke:col,'stroke-width':1.2},sg);
    vs.forEach((v,i)=>{const m=marker(shp,X(v),Y(ls[i]),2.8,col,'#fff',sg);
      
      });
    jBreakV.forEach((v,i)=>{const m=marker(shp,X(v),Y(bk[i]),2.8,col,'#fff',sg);
      
      });
  });
  const lg=[['Dark','#222','sq',925],['16 nW','#2a7a50','ci',956],['160 nW','#f0a040','tr',986]];
  lg.forEach(([s,c,shp,y])=>{const eg=el('g',{},g);
    
    
    el('line',{x1:600,x2:655,y1:y,y2:y,stroke:c,'stroke-width':1.5},eg);
    marker(shp,627,y,3.5,c,'#fff',eg);
    txt(s,{x:662,y:y+8,'font-size':23,fill:'#111'},eg);});
  t=txt('Memory window',{x:822,y:768,'font-size':17,fill:'#e03030'},g);
  t=txt('On-state',{x:836,y:873,'font-size':23,fill:'#111'},g);
  t=txt('Off-state',{x:845,y:1015,'font-size':23,fill:'#111'},g);
  t=txt('Light pulse',{x:838,y:955,'font-size':17,fill:'#4a70c0'},g);
  el('rect',{x:934,y:932,width:5,height:25,fill:'#3060c0'},g);
  el('line',{x1:925,x2:950,y1:958,y2:958,stroke:'#3060c0','stroke-width':1.5},g);
  const yt=el('text',{x:0,y:0,'font-size':22,fill:'#111','text-anchor':'middle',transform:'translate(528,880) rotate(-90)'},g);
  
  
  let sp=el('tspan',{'font-style':'italic'},yt); sp.textContent='I';
  sp=el('tspan',{'font-size':13,dy:5},yt); sp.textContent='DS';
  sp=el('tspan',{dy:-5},yt); sp.textContent=' (A)';
  t=txt('V',{x:745,y:1082,'font-size':22,'font-style':'italic',fill:'#111'},g);
  t=txt('DS',{x:760,y:1090,'font-size':13,fill:'#111'},g);
  t=txt('(V)',{x:782,y:1082,'font-size':22,fill:'#111'},g);
})();

/* ======== (k) ======== */
(function(){
  const g=document.getElementById('panelK');
  function device(x0,ytop,volt,nm){
    const dg=el('g',{},g);
    
    
    const w=148;
    el('rect',{x:x0,y:ytop+62,width:w,height:22,fill:'#a8a8a8'},dg);
    el('rect',{x:x0,y:ytop+42,width:w,height:20,fill:'#22b0e0'},dg);
    el('rect',{x:x0,y:ytop,width:w,height:42,fill:'#f8b820'},dg);
    el('rect',{x:x0+30,y:ytop,width:w-60,height:15,fill:'#fff'},dg);
    for(let r=0;r<3;r++)for(let x=x0+30;x<x0+w-28;x+=7)el('circle',{cx:x,cy:ytop+16+r*9,r:3.6,fill:r===1?'#e02030':'#e8c030'},dg);
    for(let i=0;i<4;i++)el('circle',{cx:x0+14+i*27,cy:ytop+73,r:6,fill:'#2a50a8',stroke:'#fff'},dg);
    txt('D',{x:x0+5,y:ytop+18,'font-size':15,fill:'#111'},dg);
    txt('S',{x:x0+w-20,y:ytop+18,'font-size':15,fill:'#111'},dg);
    el('line',{x1:x0+12,x2:x0+12,y1:ytop,y2:ytop-22,stroke:'#444'},dg);
    el('circle',{cx:x0+12,cy:ytop-26,r:4,fill:'#fff',stroke:'#444'},dg);
    el('path',{d:`M${x0+w-10},${ytop} V${ytop-22} H${x0+w+8} V${ytop+4}`,fill:'none',stroke:'#444'},dg);
    el('path',{d:`M${x0+w+2},${ytop+5} h12 M${x0+w+4},${ytop+8} h8 M${x0+w+6},${ytop+11} h4`,stroke:'#444'},dg);
    const t=txt(volt,{x:x0-12,y:ytop-35,'font-size':17,fill:'#111'},dg);
    
    
    return dg;
  }
  const d1=device(1070,806,'-10 V','device-programming');
  const mt=txt('MoS',{x:1124,y:825,'font-size':14,fill:'#111'},d1);
  const ms=el('tspan',{'font-size':9,dy:3},mt); ms.textContent='2';
  txt('h-BN',{x:1166,y:867,'font-size':14,fill:'#111'},d1);
  txt('Gr',{x:1192,y:889,'font-size':14,fill:'#111'},d1);
  device(1322,806,'0.5 V','device-off-read');
  device(1083,982,'0.5 V','device-erasing');
  device(1320,982,'0.5 V','device-on-read');
  const wv=el('g',{},g);
  
  
  for(let i=0;i<4;i++)el('path',{d:`M${1130+i*15},${955} l-4,6 l6,4 l-4,6 l6,4`,fill:'none',stroke:'#4a80e0','stroke-width':2},wv);
})();
</script>
</body></html>
